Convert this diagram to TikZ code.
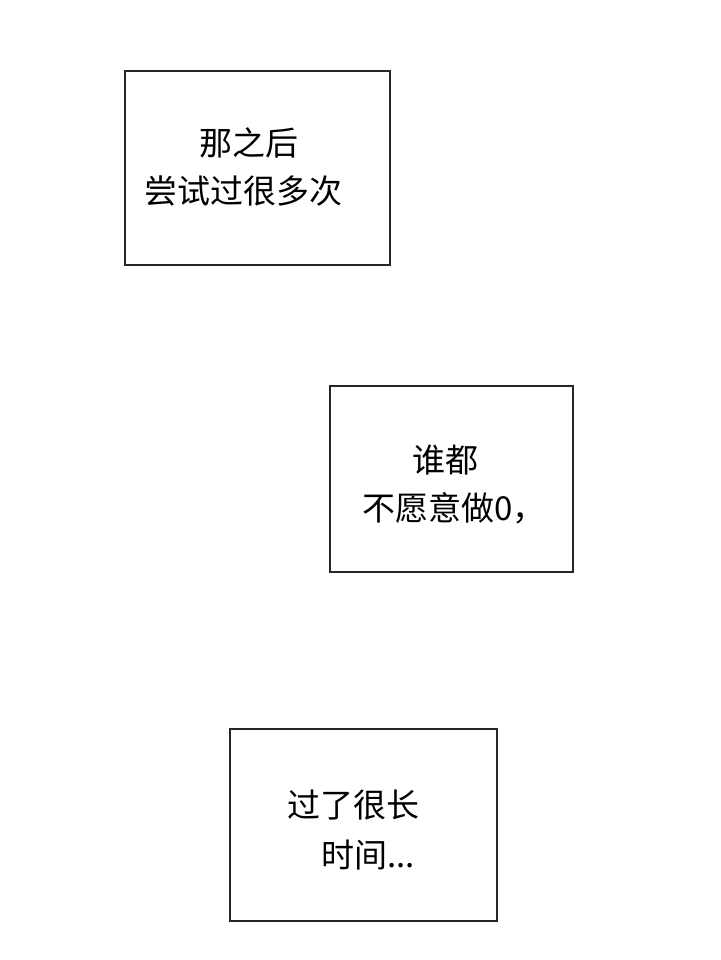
\documentclass[tikz,border=0pt]{standalone}
\usepackage{fontspec}
\newfontfamily\cjk{Noto Sans CJK SC}
\begin{document}
\begin{tikzpicture}[x=1pt,y=-1pt,
  panel/.style={draw=black!85,line width=2.5pt},
  txt/.style={font=\cjk\fontsize{33}{40}\selectfont,anchor=west,inner sep=0pt}]
\useasboundingbox[fill=white] (0,0) rectangle (720,960);
\draw[panel] (125,71) rectangle (390,265);
\node[txt] (a1) at (199,143) {那之后};
\node[txt] (a2) at (144,191) {尝试过很多次};
\draw[panel] (330,386) rectangle (573,572);
\node[txt] (b1) at (412,460) {谁都};
\node[txt] (b2) at (362,508) {不愿意做0，};
\draw[panel] (230,729) rectangle (497,921);
\node[txt] (c1) at (287,805) {过了很长};
\node[txt] (c2) at (321,855) {时间...};
\end{tikzpicture}
\end{document}
